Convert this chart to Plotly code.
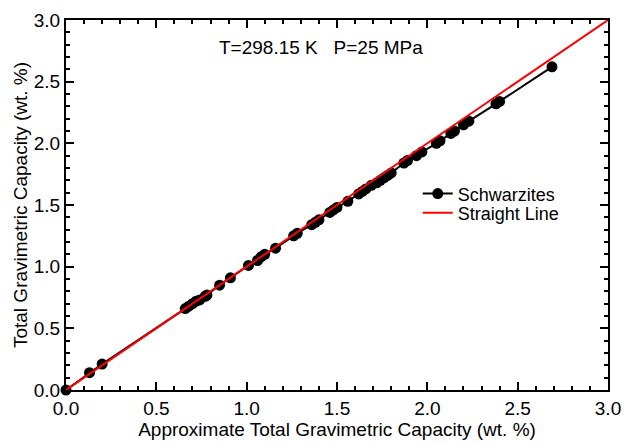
import plotly.graph_objects as go

approx_capacity = [0.00, 0.13, 0.20, 0.66, 0.68, 0.70, 0.72, 0.74, 0.77, 0.78, 0.85, 0.91,
                   1.01, 1.06, 1.08, 1.10, 1.16, 1.26, 1.28, 1.36, 1.38, 1.40, 1.46, 1.48,
                   1.50, 1.56, 1.62, 1.64, 1.66, 1.69, 1.72, 1.74, 1.76, 1.78, 1.80, 1.87,
                   1.89, 1.94, 1.97, 2.05, 2.07, 2.13, 2.15, 2.20, 2.23, 2.38, 2.40, 2.69]
total_capacity = [0.00, 0.14, 0.21, 0.66, 0.68, 0.70, 0.72, 0.73, 0.76, 0.77, 0.85, 0.91,
                  1.01, 1.05, 1.08, 1.10, 1.15, 1.25, 1.27, 1.34, 1.36, 1.38, 1.44, 1.46,
                  1.48, 1.53, 1.59, 1.61, 1.63, 1.66, 1.68, 1.70, 1.72, 1.74, 1.76, 1.84,
                  1.86, 1.90, 1.93, 2.00, 2.02, 2.08, 2.10, 2.15, 2.18, 2.32, 2.34, 2.62]
line_x = [0.0, 3.0]
line_y = [0.0, 3.0]

font = "Liberation Sans, Arial, sans-serif"

fig = go.Figure()
fig.add_trace(go.Scatter(x=approx_capacity, y=total_capacity, mode="lines+markers",
                         name="Schwarzites", line=dict(color="black", width=2),
                         marker=dict(color="black", size=11), cliponaxis=False,
                         legend="legend"))
fig.add_trace(go.Scatter(x=line_x, y=line_y, mode="lines", name="Straight Line",
                         line=dict(color="#ff0000", width=2), cliponaxis=False,
                         legend="legend2"))

axis_common = dict(range=[0, 3], dtick=0.5, tickformat=".1f", showline=True,
                   linecolor="black", linewidth=2, mirror="ticks", ticks="inside",
                   ticklen=8, tickwidth=2, tickcolor="black", showgrid=False,
                   zeroline=False, automargin=False,
                   tickfont=dict(size=19, color="black", family=font),
                   minor=dict(dtick=0.1, ticks="inside", ticklen=4, tickwidth=1.5,
                              tickcolor="black", showgrid=False))

fig.update_xaxes(**axis_common,
                 title=dict(text="Approximate Total Gravimetric Capacity (wt. %)",
                            font=dict(size=19, color="black", family=font), standoff=0))
fig.update_yaxes(**axis_common,
                 title=dict(text="Total Gravimetric Capacity (wt. %)",
                            font=dict(size=19, color="black", family=font), standoff=1))

fig.add_annotation(text="T=298.15 K   P=25 MPa", x=0.47, y=0.925, xref="paper",
                   yref="paper", showarrow=False, xanchor="center", yanchor="middle",
                   font=dict(size=19, color="black", family=font))

legend_style = dict(xanchor="left", yanchor="top", bgcolor="rgba(0,0,0,0)",
                    font=dict(size=18, color="black", family=font))

fig.update_layout(width=624, height=443, plot_bgcolor="white", paper_bgcolor="white",
                  margin=dict(l=66, r=16, t=20, b=53),
                  legend=dict(x=0.649, y=0.58, **legend_style),
                  legend2=dict(x=0.649, y=0.528, **legend_style),
                  showlegend=True)

fig.write_html("out.html", config={"displayModeBar": False},
               post_script="document.body.style.margin='0';document.body.style.overflow='hidden';")
